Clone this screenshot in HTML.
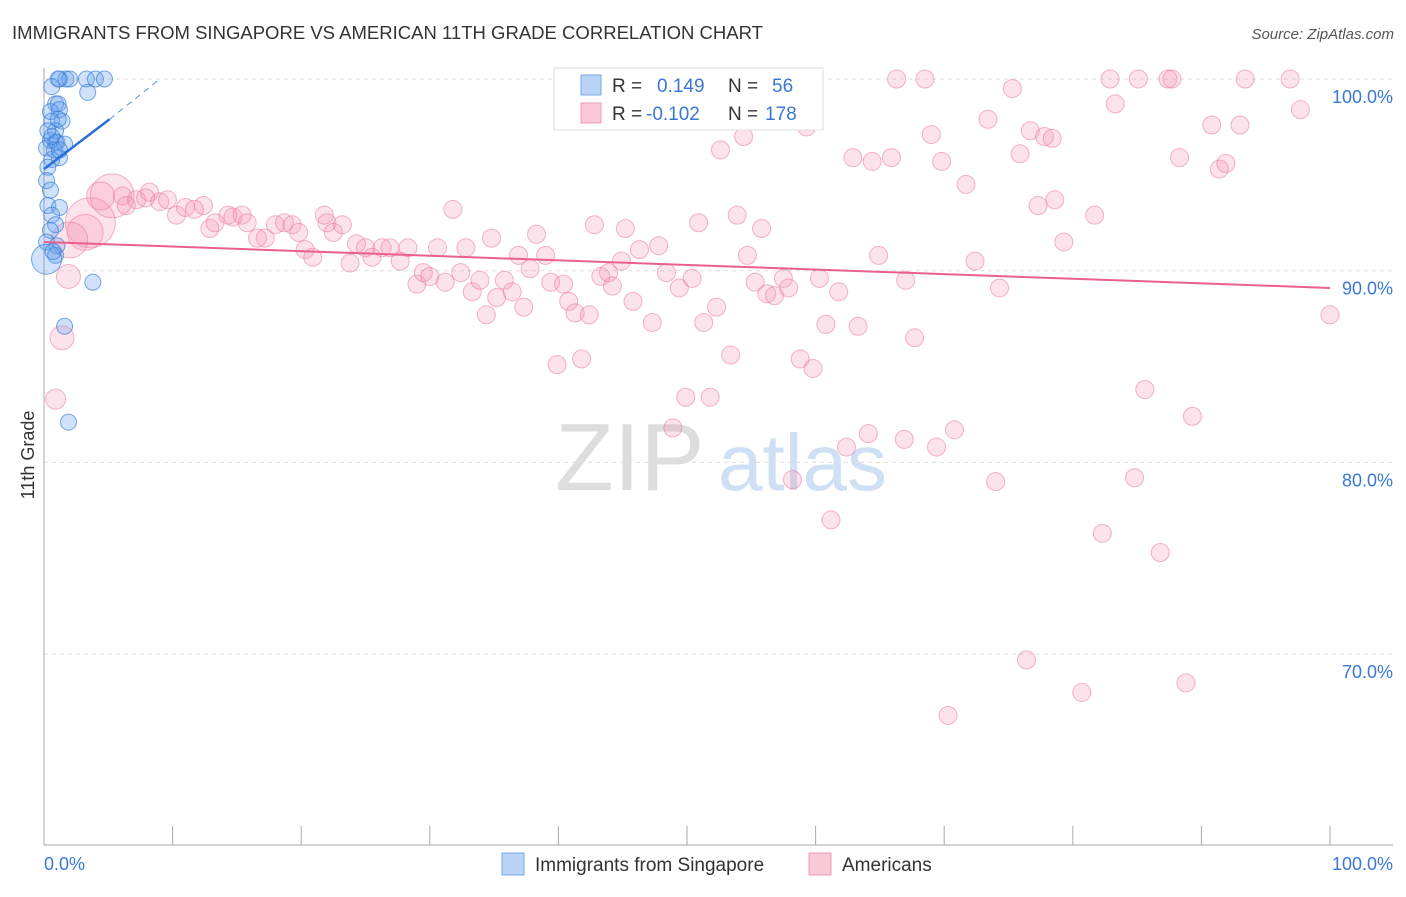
<!DOCTYPE html>
<html><head><meta charset="utf-8"><style>
body{margin:0;background:#fff;font-family:"Liberation Sans",sans-serif;}
svg text{font-family:"Liberation Sans",sans-serif;}
</style></head><body>
<svg id="c" width="1406" height="892">
<text x="12" y="39" font-size="18" fill="#333" textLength="751" lengthAdjust="spacingAndGlyphs">IMMIGRANTS FROM SINGAPORE VS AMERICAN 11TH GRADE CORRELATION CHART</text>
<text x="1394" y="39" font-size="15" fill="#555" text-anchor="end" font-style="italic">Source: ZipAtlas.com</text>
<text x="34" y="455" font-size="18" fill="#333" text-anchor="middle" transform="rotate(-90 34 455)">11th Grade</text>
<text x="555" y="490" font-size="96" fill="#ddd" font-family="Liberation Serif">ZIP</text>
<text x="718" y="490" font-size="80" fill="#cfe0f5">atlas</text>
<g id="grid"></g><g id="pts"></g><g id="trend"></g>
<g>
<rect x="554" y="68" width="269" height="62" fill="#fff" stroke="#ddd"/>
<rect x="581" y="75" width="20" height="20" fill="#b9d3f5" stroke="#7aa9e8"/>
<rect x="581" y="103" width="20" height="20" fill="#f9c9d8" stroke="#ee9ab5"/>
<text x="612" y="92" font-size="19" fill="#333">R = <tspan fill="#3a78d4" x="657">0.149</tspan><tspan x="728" fill="#333">N =</tspan><tspan x="772" fill="#3a78d4">56</tspan></text>
<text x="612" y="120" font-size="19" fill="#333">R = <tspan fill="#3a78d4" x="646">-0.102</tspan><tspan x="728" fill="#333">N =</tspan><tspan x="765" fill="#3a78d4">178</tspan></text>
</g>
<g>
<rect x="502" y="853" width="22" height="22" fill="#b9d3f5" stroke="#7aa9e8"/>
<text x="535" y="871" font-size="19" fill="#333">Immigrants from Singapore</text>
<rect x="809" y="853" width="22" height="22" fill="#f9c9d8" stroke="#ee9ab5"/>
<text x="842" y="871" font-size="19" fill="#333">Americans</text>
</g>
</svg>
<script>
const yTicks=[100,90,80,70];
const yTickLabels=["100.0%","90.0%","80.0%","70.0%"];
const xTickLabels=["0.0%","100.0%"];
const blueX=[1.2,1.7,2.0,1.1,3.3,4.0,4.7,3.4,0.6,0.9,1.1,0.5,1.2,1.4,0.6,0.9,0.5,0.9,1.0,0.2,1.2,0.6,0.3,0.2,0.5,0.3,1.2,0.6,0.9,0.5,0.2,1.0,0.9,0.2,3.8,1.6,1.9,0.6,0.8,1.6,1.1,0.7,1.2,0.3];
const blueY=[100,100,100,100,100,100,100,99.3,99.6,98.7,98.7,98.3,98.4,97.8,97.8,97.3,96.8,96.7,96.7,96.4,95.9,95.8,95.4,94.7,94.2,93.4,93.3,92.9,92.4,92.1,91.5,91.3,90.8,90.6,89.4,87.1,82.1,97.0,96.3,96.6,97.9,91.0,96.3,97.3];
const pinkX=[5.3,3.6,3.2,2.0,1.9,1.4,0.9,4.4,6.1,7.2,6.4,8.2,7.9,9.0,9.6,10.3,11.0,11.7,12.4,12.9,13.3,14.3,14.7,15.4,15.8,16.6,17.2,18.0,18.7,19.3,19.8,20.3,20.9,21.8,22.0,22.5,23.2,23.8,24.3,25.0,25.5,26.3,26.9,27.7,28.3,29.0,29.5,30.0,30.6,31.2,31.8,32.4,32.8,33.3,33.9,34.4,34.8,35.2,35.8,36.4,36.9,37.3,37.8,38.3,39.0,39.4,39.9,40.4,40.8,41.3,41.8,42.4,42.8,43.3,43.9,44.2,44.9,45.2,45.8,46.3,47.3,47.8,48.4,48.9,49.4,49.9,50.4,50.9,51.3,51.8,52.3,52.6,53.4,53.9,54.4,54.7,55.3,55.8,56.2,56.8,57.5,57.9,58.2,58.8,59.3,59.8,60.3,60.8,61.2,61.8,62.4,62.9,63.3,64.1,64.4,64.9,65.9,66.3,67.0,66.9,67.7,68.5,69.0,69.4,69.8,70.3,70.8,71.7,72.4,73.4,74.0,74.3,75.3,75.9,76.4,76.7,77.3,77.8,78.4,78.6,79.3,80.7,81.7,82.3,82.9,83.3,84.8,85.1,85.6,86.8,87.4,87.7,88.3,88.8,89.3,90.8,91.4,91.9,93.0,93.4,96.9,97.7,100];
const pinkY=[93.9,92.5,92.0,91.6,89.7,86.5,83.3,93.9,93.9,93.7,93.4,94.1,93.8,93.6,93.7,92.9,93.3,93.2,93.4,92.2,92.5,92.9,92.8,92.9,92.5,91.7,91.7,92.4,92.5,92.4,92.0,91.1,90.7,92.9,92.5,92.0,92.4,90.4,91.4,91.2,90.7,91.2,91.2,90.5,91.2,89.3,89.9,89.7,91.2,89.4,93.2,89.9,91.2,88.9,89.5,87.7,91.7,88.6,89.5,88.9,90.8,88.1,90.1,91.9,90.8,89.4,85.1,89.3,88.4,87.8,85.4,87.7,92.4,89.7,89.9,89.2,90.5,92.2,88.4,91.1,87.3,91.3,89.9,81.8,89.1,83.4,89.6,92.5,87.3,83.4,88.1,96.3,85.6,92.9,97.0,90.8,89.4,92.2,88.8,88.7,89.6,89.1,79.1,85.4,97.5,84.9,89.6,87.2,77.0,88.9,80.8,95.9,87.1,81.5,95.7,90.8,95.9,100,89.5,81.2,86.5,100,97.1,80.8,95.7,66.8,81.7,94.5,90.5,97.9,79.0,89.1,99.5,96.1,69.7,97.3,93.4,97.0,96.9,93.7,91.5,68.0,92.9,76.3,100,98.7,79.2,100,83.8,75.3,100,100,95.9,68.5,82.4,97.6,95.3,95.6,97.6,100,100,98.4,87.7];
const pinkBig=[22,25,18,18,12,12,10,14];
const pinkTrend=[91.5,89.1];
const blueTrend=[95.3,97.9,100];
const blueTrendX=[0,5.1,9];
const NS="http://www.w3.org/2000/svg";
const X=v=>44+v*12.86, Y=v=>79+(100-v)*19.17;
function mk(t,a,p){const e=document.createElementNS(NS,t);for(const k in a)e.setAttribute(k,a[k]);p.appendChild(e);return e;}
const grid=document.getElementById('grid');
yTicks.forEach((v,i)=>{
 const l=mk('line',{x1:44,x2:1393,y1:Y(v),y2:Y(v),stroke:'#ddd','stroke-dasharray':'4 4'},grid);
 
 
 const t=mk('text',{x:1393,y:Y(v)+24,'font-size':18,fill:'#3a78d4','text-anchor':'end'},grid);t.textContent=yTickLabels[i];
 
 
});
const ax=mk('line',{x1:44,x2:44,y1:68,y2:845,stroke:'#aaa'},grid);


const bx=mk('line',{x1:44,x2:1393,y1:845,y2:845,stroke:'#aaa'},grid);


for(let i=0;i<=10;i++){const t=mk('line',{x1:X(i*10),x2:X(i*10),y1:826,y2:845,stroke:'#aaa'},grid);
 
 }
const xl0=mk('text',{x:44,y:870,'font-size':18,fill:'#3a78d4'},grid);xl0.textContent=xTickLabels[0];


const xl1=mk('text',{x:1393,y:870,'font-size':18,fill:'#3a78d4','text-anchor':'end'},grid);xl1.textContent=xTickLabels[1];


const pts=document.getElementById('pts');
pinkX.forEach((x,i)=>{const c=mk('circle',{cx:X(x),cy:Y(pinkY[i]),r:pinkBig[i]||9,fill:'rgba(244,143,177,0.25)',stroke:'rgba(232,110,150,0.5)','stroke-width':1},pts);
 
 });
blueX.forEach((x,i)=>{const c=mk('circle',{cx:X(x),cy:Y(blueY[i]),r:i==33?15:8,fill:'rgba(100,160,235,0.3)',stroke:'rgba(50,120,215,0.65)','stroke-width':1},pts);
 
 });
const tr=document.getElementById('trend');
const pl=mk('line',{x1:X(0),y1:Y(pinkTrend[0]),x2:X(100),y2:Y(pinkTrend[1]),stroke:'#e8608c','stroke-width':2},tr);


const bl=mk('line',{x1:X(blueTrendX[0]),y1:Y(blueTrend[0]),x2:X(blueTrendX[1]),y2:Y(blueTrend[1]),stroke:'#2a6fd6','stroke-width':2.5},tr);


const bd=mk('line',{x1:X(blueTrendX[1]),y1:Y(blueTrend[1]),x2:X(blueTrendX[2]),y2:Y(blueTrend[2]),stroke:'#5a8fe0','stroke-width':1,'stroke-dasharray':'6 5'},tr);


</script>
</body></html>
